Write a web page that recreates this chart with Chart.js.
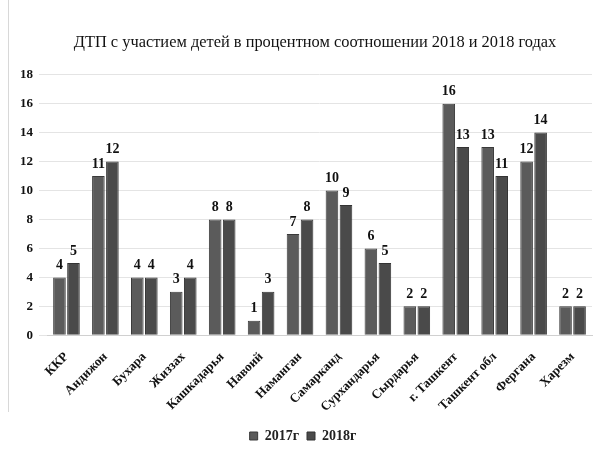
<!DOCTYPE html>
<html><head><meta charset="utf-8">
<script src="https://cdn.jsdelivr.net/npm/chart.js@4/dist/chart.umd.min.js"></script>
<style>
html,body{margin:0;padding:0;background:#fff;}
#wrap{position:relative;width:594px;height:453px;}
#edge{position:absolute;left:8px;top:0;width:1px;height:412px;background:#d8d8d8;}
</style></head>
<body><div id="wrap"><div id="edge"></div><canvas id="c" width="594" height="453"></canvas></div>
<script>
const categories = ["ККР","Андижон","Бухара","Жиззах","Кашкадарья","Навоий","Наманган","Самарканд","Сурхандарья","Сырдарья","г. Ташкент","Ташкент обл","Фергана","Харезм"];
const values2017 = [4,11,4,3,8,1,7,10,6,2,16,13,12,2];
const values2018 = [5,12,4,4,8,3,8,9,5,2,13,11,14,2];
const seriesNames = ["2017г","2018г"];
const yTicks = [0,2,4,6,8,10,12,14,16,18];
const titleText = "ДТП с участием детей в процентном соотношении 2018 и 2018 годах";

const labelPlugin = {
  id: 'barLabels',
  afterLayout(chart){
    if (chart.titleBlock) { chart.titleBlock.left += 24; }
  },
  afterDatasetsDraw(chart){
    const ctx = chart.ctx;
    ctx.save();
    ctx.font = 'bold 14px "Liberation Serif", serif';
    ctx.fillStyle = '#111';
    ctx.textAlign = 'center';
    ctx.textBaseline = 'bottom';
    chart.data.datasets.forEach((ds, i) => {
      chart.getDatasetMeta(i).data.forEach((bar, j) => {
        ctx.fillText(String(ds.data[j]), bar.x, bar.y - 5);
      });
    });
    ctx.restore();
  }
};

new Chart(document.getElementById('c'), {
  type: 'bar',
  data: {
    labels: categories,
    datasets: [
      {label: seriesNames[0], data: values2017, backgroundColor: '#5b5b5b', borderColor:'#3a3a3a', borderWidth:1, categoryPercentage: 0.72, barPercentage: 0.9},
      {label: seriesNames[1], data: values2018, backgroundColor: '#4a4a4a', borderColor:'#333', borderWidth:1, categoryPercentage: 0.72, barPercentage: 0.9}
    ]
  },
  options: {
    responsive: false,
    animation: false,
    layout: {padding: {left: 14, right: 2, top: 15, bottom: 0}},
    plugins: {
      title: {display: true, text: titleText, color: '#111', font: {family: '"Liberation Serif", serif', size: 16.4, weight: 'normal'}, padding: {top: 18, bottom: 22}},
      legend: {position: 'bottom', labels: {color:'#222', boxWidth: 8, boxHeight: 8, font: {family: '"Liberation Serif", serif', size: 14, weight: 'bold'}, padding: 8}},
      tooltip: {enabled: false}
    },
    scales: {
      x: {
        grid: {display: false},
        border: {color: '#d0d0d0'},
        ticks: {color:'#111', maxRotation: 45, minRotation: 45, padding: 6, font: {family: '"Liberation Serif", serif', size: 13, weight: 'bold'}}
      },
      y: {
        min: 0, max: 18,
        afterBuildTicks(axis){ axis.ticks = yTicks.map(v => ({value: v})); },
        grid: {color: '#e4e4e4'},
        border: {display: false},
        ticks: {color:'#111', padding: 6, font: {family: '"Liberation Serif", serif', size: 13, weight: 'bold'}}
      }
    }
  },
  plugins: [labelPlugin]
});
</script></body></html>
